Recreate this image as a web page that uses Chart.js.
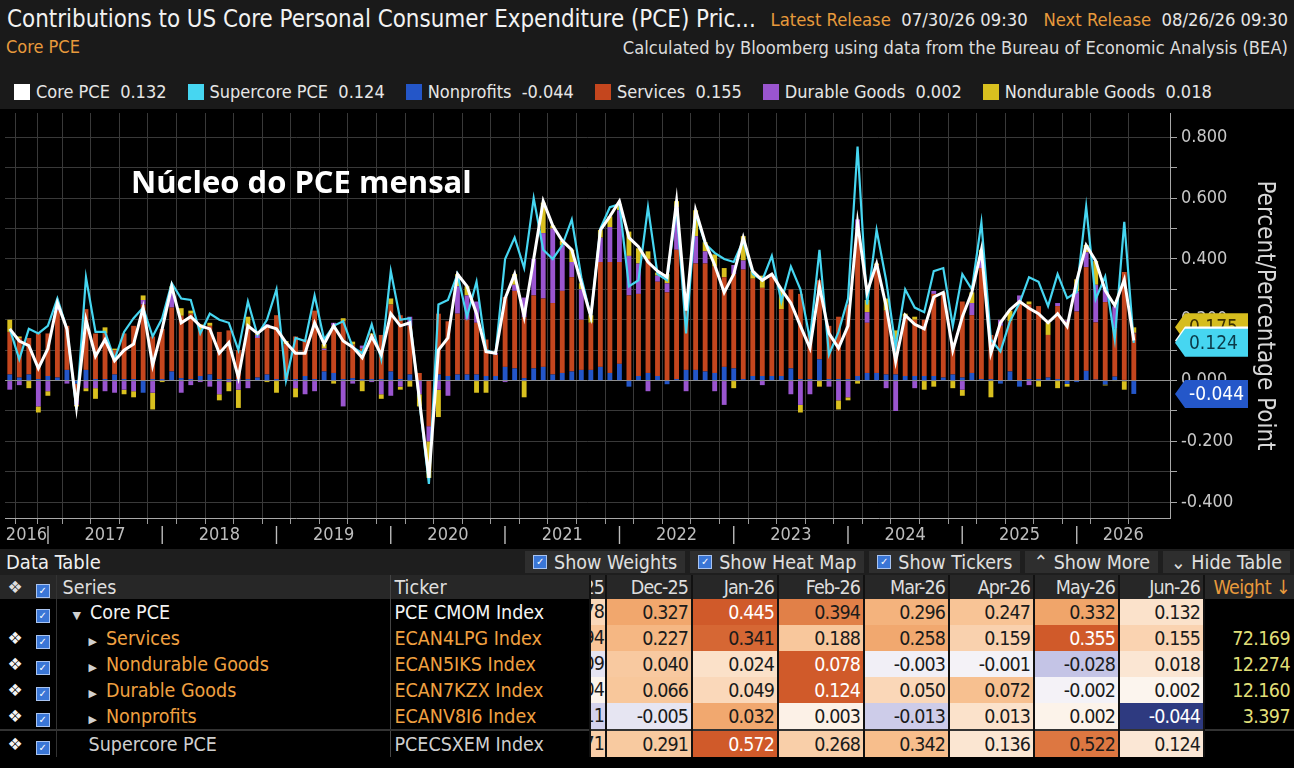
<!DOCTYPE html>
<html>
<head>
<meta charset="utf-8">
<title>Contributions to US Core PCE</title>
<script src="https://cdn.jsdelivr.net/npm/chart.js"></script>
<style>
  html, body { margin: 0; padding: 0; background: #000; }
  body { width: 1294px; height: 768px; overflow: hidden; position: relative;
         font-family: 'Liberation Sans Narrow', 'DejaVu Sans Condensed', Roboto, sans-serif; color: #e8e8e8; }
  .abs { position: absolute; white-space: nowrap; }
  #head { position: absolute; left: 0; top: 0; width: 1294px; height: 109px; background: #1a1a1a; }
  #title { left: 7px; top: 5px; font-size: 23.9px; color: #f2f2f2; }
  #release { right: 6px; top: 9px; font-size: 18.3px; color: #e6e6e6; }
  .org { color: #e89a3c; }
  #sub { left: 6px; top: 36px; font-size: 18px; }
  #source { right: 6px; top: 37px; font-size: 18.2px; color: #dcdcdc; }
  #legend { left: 14px; top: 81px; font-size: 18px; display: flex; gap: 21px; color: #e6e6e6; }
  .lg { display: flex; align-items: center; gap: 6px; }
  .sw { width: 16px; height: 16px; display: inline-block; }
  #chartBox { position: absolute; left: 0; top: 109px; width: 1294px; height: 439px; }
  #note { left: 131px; top: 160px; font: 700 31px 'Open Sans', 'Noto Sans', sans-serif; color: #fff; }
  #tbar { position: absolute; left: 0; top: 549px; width: 1294px; height: 26px; background: #1e1e1e; }
  #tbar .label { left: 6px; top: 1px; font-size: 20px; color: #f0f0f0; }
  #btns { position: absolute; right: 4px; top: 2px; display: flex; gap: 5px; }
  .btn { background: #2e2e2e; color: #e0e0e0; font-size: 19.5px; height: 22px; padding: 0 8px;
         display: flex; align-items: center; gap: 7px; }
  .cb { width: 12px; height: 12px; background: #3a76d6; border: 1px solid #a9c4f0; color: #fff;
        font-size: 10px; line-height: 12px; text-align: center; display: inline-block; font-family: 'DejaVu Sans', sans-serif; }
  table { position: absolute; left: 0; top: 575px; width: 1294px; border-collapse: collapse; table-layout: fixed; font-size: 19.5px; }
  td { padding: 0; height: 26px; white-space: nowrap; overflow: hidden; background: #000; }
  tr.hdr td { background: #272727; color: #dedede; height: 24px; }
  td.icon { text-align: center; color: #f4f4f4; font-family: 'DejaVu Sans', sans-serif; font-size: 17px; }
  td.chk { text-align: center; }
  td.name { border-left: 1px solid #333; padding-left: 6px; }
  td.tick { border-left: 1px solid #444; padding-left: 4px; }
  td.val { text-align: right; padding-right: 3px; border-left: 2px solid #111; color: #1b1b1b; letter-spacing: -0.9px; }
  td.part { position: relative; border-left: 2px solid #111; }
  td.part span { position: absolute; right: 1px; top: 0; line-height: 26px; letter-spacing: -0.9px; }
  td.wt { text-align: right; padding-right: 4px; color: #e0df78; border-left: 2px solid #111; letter-spacing: -0.6px; }
  tr.sep td { border-top: 2px solid #333; }
  .tri { color: #d0d0d0; font-size: 11px; margin-right: 9px; font-family: 'DejaVu Sans', sans-serif; }
</style>
</head>
<body>
<div id="head">
  <div id="title" class="abs">Contributions to US Core Personal Consumer Expenditure (PCE) Pric...</div>
  <div id="release" class="abs"><span class="org">Latest Release</span>&nbsp; 07/30/26 09:30&nbsp;&nbsp; <span class="org">Next Release</span>&nbsp; 08/26/26 09:30</div>
  <div id="sub" class="abs org">Core PCE</div>
  <div id="source" class="abs">Calculated by Bloomberg using data from the Bureau of Economic Analysis (BEA)</div>
  <div id="legend" class="abs"></div>
</div>
<div id="chartBox"><canvas id="pce"></canvas></div>
<div id="note" class="abs">Núcleo do PCE mensal</div>
<div id="tbar">
  <div class="abs label">Data Table</div>
  <div id="btns">
    <div class="btn"><span class="cb">✓</span>Show Weights</div>
    <div class="btn"><span class="cb">✓</span>Show Heat Map</div>
    <div class="btn"><span class="cb">✓</span>Show Tickers</div>
    <div class="btn">⌃ Show More</div>
    <div class="btn">⌄ Hide Table</div>
  </div>
</div>
<table id="tbl"></table>

<script>
// monthly contributions, Aug 2016 .. Jun 2026 (percentage points)
const firstYear = 2016, firstMonth = 7;   // Aug
const monthNames = ['Jan','Feb','Mar','Apr','May','Jun','Jul','Aug','Sep','Oct','Nov','Dec'];

const corePce = [
  0.17,0.13,0.115,0.04,0.105,0.255,0.17,-0.085,0.2,0.08,
  0.135,0.065,0.10,0.12,0.24,0.05,0.17,0.31,0.19,0.21,
  0.18,0.17,0.09,0.125,0.01,0.18,0.155,0.18,0.17,0.125,
  0.09,0.09,0.19,0.12,0.18,0.13,0.11,0.075,0.145,0.085,
  0.22,0.18,0.19,-0.06,-0.32,0.10,0.14,0.35,0.31,0.22,
  0.095,0.09,0.27,0.35,0.21,0.40,0.59,0.51,0.46,0.43,
  0.32,0.21,0.495,0.54,0.59,0.47,0.44,0.39,0.36,0.34,
  0.59,0.23,0.56,0.455,0.38,0.29,0.35,0.47,0.36,0.33,
  0.35,0.30,0.255,0.18,0.107,0.31,0.155,0.107,0.18,0.52,
  0.29,0.385,0.245,0.063,0.215,0.185,0.17,0.275,0.29,0.10,
  0.21,0.29,0.43,0.09,0.19,0.233,0.26,0.238,0.22,0.19,
  0.22,0.178,0.327,0.445,0.394,0.296,0.247,0.332,0.132
];
const supercorePce = [
  0.17,0.07,0.17,0.155,0.18,0.27,0.17,-0.095,0.34,0.16,
  0.16,0.07,0.16,0.205,0.24,0.145,0.205,0.32,0.27,0.265,
  0.155,0.22,0.2,0.19,0.10,0.26,0.15,0.2,0.30,0.0,
  0.14,0.13,0.28,0.135,0.18,0.195,0.11,0.09,0.185,0.07,
  0.36,0.2,0.205,-0.07,-0.34,0.25,0.265,0.35,0.21,0.325,
  0.10,0.09,0.40,0.47,0.37,0.60,0.43,0.40,0.445,0.53,
  0.34,0.21,0.5,0.57,0.58,0.31,0.33,0.57,0.35,0.33,
  0.57,0.155,0.55,0.45,0.42,0.40,0.39,0.46,0.35,0.33,
  0.41,0.26,0.375,0.30,0.135,0.43,0.085,0.16,0.27,0.77,
  0.25,0.495,0.33,0.11,0.30,0.24,0.225,0.36,0.37,0.18,
  0.35,0.30,0.52,0.135,0.096,0.195,0.255,0.34,0.325,0.245,
  0.35,0.271,0.291,0.572,0.268,0.342,0.136,0.522,0.124
];
const nonprofits = [
  0.02,0.01,0.02,0.005,0.015,0.01,0.035,-0.01,0.035,0.005,
  0.005,0.02,0.005,0.005,-0.04,0.005,0.005,0.03,0.008,0.005,
  0.015,0.02,0.005,0.005,0.005,0.005,0.01,0.02,0.005,0.005,
  0.005,0.015,0.005,0.03,0.025,0.005,0.008,0.005,0.005,0.005,
  0.03,0.005,0.02,0.0,0.0,0.02,0.015,0.02,0.02,0.02,
  0.015,0.015,0.045,0.04,0.008,0.04,0.045,0.02,0.025,0.03,
  0.035,0.035,0.045,0.025,0.055,-0.02,0.015,0.025,0.015,-0.012,
  0.005,0.035,0.035,0.03,0.025,0.045,0.04,0.005,0.015,0.015,
  0.015,0.015,0.04,0.005,0.005,0.07,0.005,0.005,0.005,0.015,
  0.025,0.025,0.02,0.02,0.015,0.015,0.015,0.015,0.01,0.02,
  0.01,0.025,0.005,0.005,-0.01,0.03,-0.02,0.005,0.005,0.01,
  0.005,-0.011,-0.005,0.032,0.003,-0.013,0.013,0.002,-0.044
];
const services = [
  0.14,0.13,0.12,0.15,0.14,0.22,0.145,-0.05,0.2,0.15,
  0.15,0.08,0.15,0.175,0.25,0.14,0.165,0.21,0.205,0.215,
  0.15,0.16,0.155,0.16,0.095,0.175,0.13,0.16,0.21,0.115,
  0.14,0.12,0.225,0.07,0.155,0.19,0.11,0.1,0.145,0.145,
  0.22,0.21,0.16,0.025,-0.15,0.2,0.18,0.2,0.18,0.17,
  0.12,0.07,0.23,0.255,0.2,0.24,0.225,0.235,0.27,0.31,
  0.165,0.155,0.345,0.365,0.335,0.28,0.27,0.375,0.31,0.29,
  0.425,0.235,0.35,0.355,0.35,0.295,0.31,0.36,0.32,0.29,
  0.335,0.22,0.26,0.28,0.15,0.26,0.175,0.205,0.245,0.475,
  0.165,0.355,0.21,0.115,0.195,0.185,0.185,0.27,0.28,0.105,
  0.25,0.19,0.365,0.145,0.18,0.165,0.26,0.245,0.24,0.14,
  0.24,0.194,0.227,0.341,0.188,0.258,0.159,0.355,0.155
];
const durableGoods = [
  -0.03,-0.015,0.0,-0.085,-0.035,0.02,-0.01,-0.02,-0.025,-0.025,
  -0.035,-0.04,-0.03,-0.035,0.015,-0.04,0.0,0.05,-0.04,-0.015,
  -0.005,-0.02,-0.045,-0.005,-0.03,-0.025,0.01,0.005,0.0,0.0,
  -0.025,-0.045,-0.035,0.005,0.01,-0.085,-0.01,0.01,-0.005,-0.045,
  -0.05,-0.02,0.03,-0.045,-0.05,-0.03,-0.05,0.09,0.08,0.07,
  0.0,0.005,-0.005,0.02,0.065,0.12,0.215,0.245,0.15,0.05,
  0.1,0.0,0.08,0.115,0.17,0.13,0.1,-0.035,0.02,0.03,
  0.14,-0.035,0.09,0.04,-0.035,-0.08,0.03,0.03,0.0,-0.015,
  0.0,0.0,-0.045,-0.08,-0.045,0.0,-0.02,-0.065,-0.055,0.04,
  0.035,0.0,-0.025,-0.10,0.0,-0.025,0.0,0.01,0.0,0.0,
  -0.03,0.04,0.04,0.0,0.02,0.0,0.02,-0.015,0.0,0.0,
  0.01,0.004,0.066,0.049,0.124,0.050,0.072,-0.002,0.002
];
const nondurableGoods = [
  0.04,0.005,-0.025,-0.02,-0.015,0.005,0.0,-0.005,-0.01,-0.035,
  0.02,0.005,-0.015,-0.02,0.015,-0.055,-0.005,0.02,0.025,0.01,
  0.02,0.01,-0.02,-0.03,-0.06,0.03,0.005,-0.005,-0.04,0.01,
  -0.03,0.0,0.0,0.015,-0.01,0.01,0.01,-0.035,0.005,-0.015,
  0.02,-0.01,-0.02,-0.04,-0.12,-0.09,0.0,0.04,0.03,-0.04,
  -0.04,0.0,0.0,0.035,-0.055,0.0,0.1,0.01,0.015,0.04,
  0.02,0.025,0.025,0.035,0.02,0.08,0.05,0.025,0.01,0.03,
  0.02,0.0,0.085,0.03,0.04,0.03,-0.025,0.08,0.025,0.04,
  0.0,0.065,0.0,-0.025,0.0,-0.02,0.0,-0.03,-0.01,-0.01,
  0.04,0.005,0.04,0.03,0.01,0.01,-0.03,-0.02,0.0,-0.025,
  -0.02,0.035,0.02,-0.055,0.0,0.035,0.0,0.01,-0.02,0.04,
  -0.025,-0.009,0.040,0.024,0.078,-0.003,-0.001,-0.028,0.018
];
const weights = [72.169, 12.274, 12.160, 3.397];   // services, nondurable, durable, nonprofits
const yearLabels = ['2016','2017','2018','2019','2020','2021','2022','2023','2024','2025','2026'];

const months = corePce.map((_, i) => {
  const m = (firstMonth + i) % 12, y = firstYear + Math.floor((firstMonth + i) / 12);
  return monthNames[m] + '-' + String(y).slice(2);
});

const colors = {
  core: '#ffffff', supercore: '#46d6f1', nonprofits: '#2456c8',
  services: '#c4461e', durable: '#9a55cf', nondurable: '#d9c01f'
};

// legend
const last = corePce.length - 1;
const legendItems = [
  ['Core PCE', colors.core, corePce[last]],
  ['Supercore PCE', colors.supercore, supercorePce[last]],
  ['Nonprofits', colors.nonprofits, nonprofits[last]],
  ['Services', colors.services, services[last]],
  ['Durable Goods', colors.durable, durableGoods[last]],
  ['Nondurable Goods', colors.nondurable, nondurableGoods[last]]
];
document.getElementById('legend').innerHTML = legendItems.map(([n, c, v]) =>
  `<div class="lg"><span class="sw" style="background:${c}"></span><span>${n}&nbsp; ${v.toFixed(3)}</span></div>`).join('');

// x axis ticks: quarter gridlines, '|' at year boundaries, year label mid-year
const xMin = -0.5, xMax = 121.8;
const firstDec = months.findIndex(m => m.startsWith('Dec'));
const lastDec = months.length - 1 - [...months].reverse().findIndex(m => m.startsWith('Dec'));
const tickLabel = new Map();
months.forEach((m, i) => {
  const mon = m.slice(0, 3);
  if (mon === 'Dec') tickLabel.set(i, '|');
  else if (mon === 'Jun') tickLabel.set(i, i < lastDec ? '20' + m.slice(4) : '');
  else if (mon === 'Mar' || mon === 'Sep') tickLabel.set(i, '');
});
tickLabel.set((xMin + firstDec) / 2, yearLabels[0]);
tickLabel.set((lastDec + xMax) / 2, yearLabels[yearLabels.length - 1]);
const xTicks = [...tickLabel.keys()].sort((a, b) => a - b);

const pts = arr => arr.map((v, i) => ({ x: i, y: v }));
const bar = (label, data, color) => ({
  type: 'bar', label, data: pts(data), backgroundColor: color, stack: 'parts', order: 3,
  barPercentage: 1, categoryPercentage: 0.68
});

const badgePlugin = {
  id: 'badges',
  afterDraw(chart) {
    const { ctx, chartArea, scales: { y } } = chart;
    const stackTop = [nonprofits, services, durableGoods, nondurableGoods]
      .reduce((s, a) => s + Math.max(a[last], 0), 0);
    const items = [
      { v: stackTop, bg: '#d6bd1e', fg: '#3a3000' },
      { v: corePce[last], bg: '#ffffff', fg: '#222' },
      { v: supercorePce[last], bg: colors.supercore, fg: '#0b3b4a' },
      { v: nonprofits[last], bg: '#2457c9', fg: '#ffffff' }
    ];
    const x0 = chartArea.right + 5, w = 73, h = 28;
    ctx.save();
    ctx.font = "19px 'Liberation Sans Narrow', 'DejaVu Sans Condensed', Roboto, sans-serif";
    ctx.textBaseline = 'middle';
    items.forEach(it => {
      const yc = y.getPixelForValue(it.v);
      ctx.fillStyle = it.bg;
      ctx.beginPath();
      ctx.moveTo(x0, yc);
      ctx.lineTo(x0 + 10, yc - h / 2);
      ctx.lineTo(x0 + w, yc - h / 2);
      ctx.lineTo(x0 + w, yc + h / 2);
      ctx.lineTo(x0 + 10, yc + h / 2);
      ctx.closePath();
      ctx.fill();
      ctx.fillStyle = it.fg;
      ctx.fillText(it.v.toFixed(3), x0 + 14, yc + 1);
    });
    ctx.restore();
  }
};

Chart.defaults.font.family = "'Liberation Sans Narrow', 'DejaVu Sans Condensed', Roboto, sans-serif";

new Chart(document.getElementById('pce'), {
  data: {
    datasets: [
      { type: 'line', label: 'Core PCE', data: pts(corePce), borderColor: colors.core, borderWidth: 3,
        pointRadius: 0, tension: 0, stack: 'core', order: 0 },
      { type: 'line', label: 'Supercore PCE', data: pts(supercorePce), borderColor: colors.supercore, borderWidth: 2.2,
        pointRadius: 0, tension: 0, stack: 'super', order: 1 },
      bar('Nonprofits', nonprofits, colors.nonprofits),
      bar('Services', services, colors.services),
      bar('Durable Goods', durableGoods, colors.durable),
      bar('Nondurable Goods', nondurableGoods, colors.nondurable)
    ]
  },
  options: {
    responsive: true,
    maintainAspectRatio: false,
    animation: false,
    layout: { padding: { left: 5, top: 4, right: 0, bottom: 0 } },
    plugins: { legend: { display: false }, tooltip: { enabled: false } },
    scales: {
      x: {
        type: 'linear', min: xMin, max: xMax, stacked: true, offset: false,
        afterBuildTicks: s => { s.ticks = xTicks.map(v => ({ value: v })); },
        afterFit: s => { s.height = 30; s.paddingLeft = 0; s.paddingRight = 0; },
        ticks: { autoSkip: false, maxRotation: 0, color: '#bdbdbd', font: { size: 18 }, padding: 1,
                 callback: v => tickLabel.get(v) ?? '' },
        grid: {
          color: c => (c.tick && Number.isInteger(c.tick.value)) ? '#393939' : 'transparent',
          tickColor: c => (c.tick && Number.isInteger(c.tick.value)) ? '#9a9a9a' : 'transparent',
          tickLength: 6
        },
        border: { color: '#a8a8a8', width: 1 }
      },
      y: {
        position: 'right', min: -0.452, max: 0.88, stacked: true,
        afterFit: s => { s.width = 124; s.paddingTop = 0; s.paddingBottom = 0; },
        ticks: { stepSize: 0.1, includeBounds: false, color: '#c8c8c8', font: { size: 18 }, padding: 4,
                 callback: v => (Math.round(v * 10) % 2 === 0) ? v.toFixed(3) : '' },
        grid: {
          color: c => (c.tick && Math.abs(c.tick.value) < 1e-9) ? '#909090' : '#393939',
          tickColor: '#a8a8a8', tickLength: 7
        },
        border: { color: '#a8a8a8', width: 1 },
        title: { display: true, text: 'Percent/Percentage Point', color: '#d8d8d8',
                 font: { size: 24 }, padding: { top: 15, bottom: 0 } }
      }
    }
  },
  plugins: [badgePlugin]
});

// data table with heat map (last 8 months, first one cut off at the left)
const shown = 8;
const colIdx = months.map((_, i) => i).slice(-shown);
const tableRows = [
  { name: 'Core PCE', ticker: 'PCE CMOM Index', data: corePce, level: 0 },
  { name: 'Services', ticker: 'ECAN4LPG Index', data: services, level: 1, weight: weights[0] },
  { name: 'Nondurable Goods', ticker: 'ECAN5IKS Index', data: nondurableGoods, level: 1, weight: weights[1] },
  { name: 'Durable Goods', ticker: 'ECAN7KZX Index', data: durableGoods, level: 1, weight: weights[2] },
  { name: 'Nonprofits', ticker: 'ECANV8I6 Index', data: nonprofits, level: 1, weight: weights[3] },
  { name: 'Supercore PCE', ticker: 'PCECSXEM Index', data: supercorePce, level: 2 }
];

const posStops = [[0, [252, 246, 240]], [0.35, [251, 222, 196]], [0.6, [247, 190, 140]], [0.8, [238, 156, 94]], [1, [208, 90, 42]]];
const negStops = [[0, [246, 244, 248]], [0.4, [190, 190, 228]], [1, [46, 58, 128]]];
function ramp(stops, t) {
  for (let k = 1; k < stops.length; k++) {
    if (t <= stops[k][0]) {
      const [t0, c0] = stops[k - 1], [t1, c1] = stops[k];
      const f = (t - t0) / (t1 - t0);
      return c0.map((v, j) => Math.round(v + (c1[j] - v) * f));
    }
  }
  return stops[stops.length - 1][1];
}
function heat(v, maxAbs) {
  const t = Math.max(-1, Math.min(1, v / maxAbs));
  const c = t >= 0 ? ramp(posStops, t) : ramp(negStops, -t);
  const dark = t > 0.97 || t < -0.6;
  return { bg: `rgb(${c.join(',')})`, fg: dark ? '#ffffff' : '#1b1b1b' };
}

const widths = [30, 26, 334, 200, 16, 86, 86, 86, 85, 85, 85, 85, 90];
const cell = (k, text, bg, fg) => k === 0
  ? `<td class="part" style="background:${bg};color:${fg}"><span>${text}</span></td>`
  : `<td class="val" style="background:${bg};color:${fg}">${text}</td>`;
let html = '<colgroup>' + widths.map(w => `<col style="width:${w}px">`).join('') + '</colgroup>';
html += '<tr class="hdr"><td class="icon">❖</td><td class="chk"><span class="cb">✓</span></td>' +
        '<td class="name">Series</td><td class="tick">Ticker</td>' +
        colIdx.map((i, k) => cell(k, months[i], '#272727', '#dedede')).join('') +
        '<td class="wt" style="color:#e89a3c">Weight ↓</td></tr>';
tableRows.forEach(r => {
  const vals = colIdx.map(i => r.data[i]);
  const maxAbs = Math.max(...vals.map(Math.abs));
  const nameColor = r.level === 1 ? '#f0a040' : (r.level === 0 ? '#f4f4f4' : '#cfcfcf');
  const prefix = r.level === 0 ? '<span class="tri" style="margin-left:10px">▼</span>'
               : r.level === 1 ? '<span class="tri" style="margin-left:26px">▶</span>'
               : '<span style="margin-left:26px"></span>';
  html += `<tr class="${r.level === 2 ? 'sep' : ''}">` +
          `<td class="icon">${r.level === 0 ? '' : '❖'}</td>` +
          '<td class="chk"><span class="cb">✓</span></td>' +
          `<td class="name" style="color:${nameColor}">${prefix}${r.name}</td>` +
          `<td class="tick" style="color:${nameColor}">${r.ticker}</td>` +
          vals.map((v, k) => { const h = heat(v, maxAbs); return cell(k, v.toFixed(3), h.bg, h.fg); }).join('') +
          `<td class="wt">${r.weight !== undefined ? r.weight.toFixed(3) : ''}</td></tr>`;
});
document.getElementById('tbl').innerHTML = html;
</script>
</body>
</html>
